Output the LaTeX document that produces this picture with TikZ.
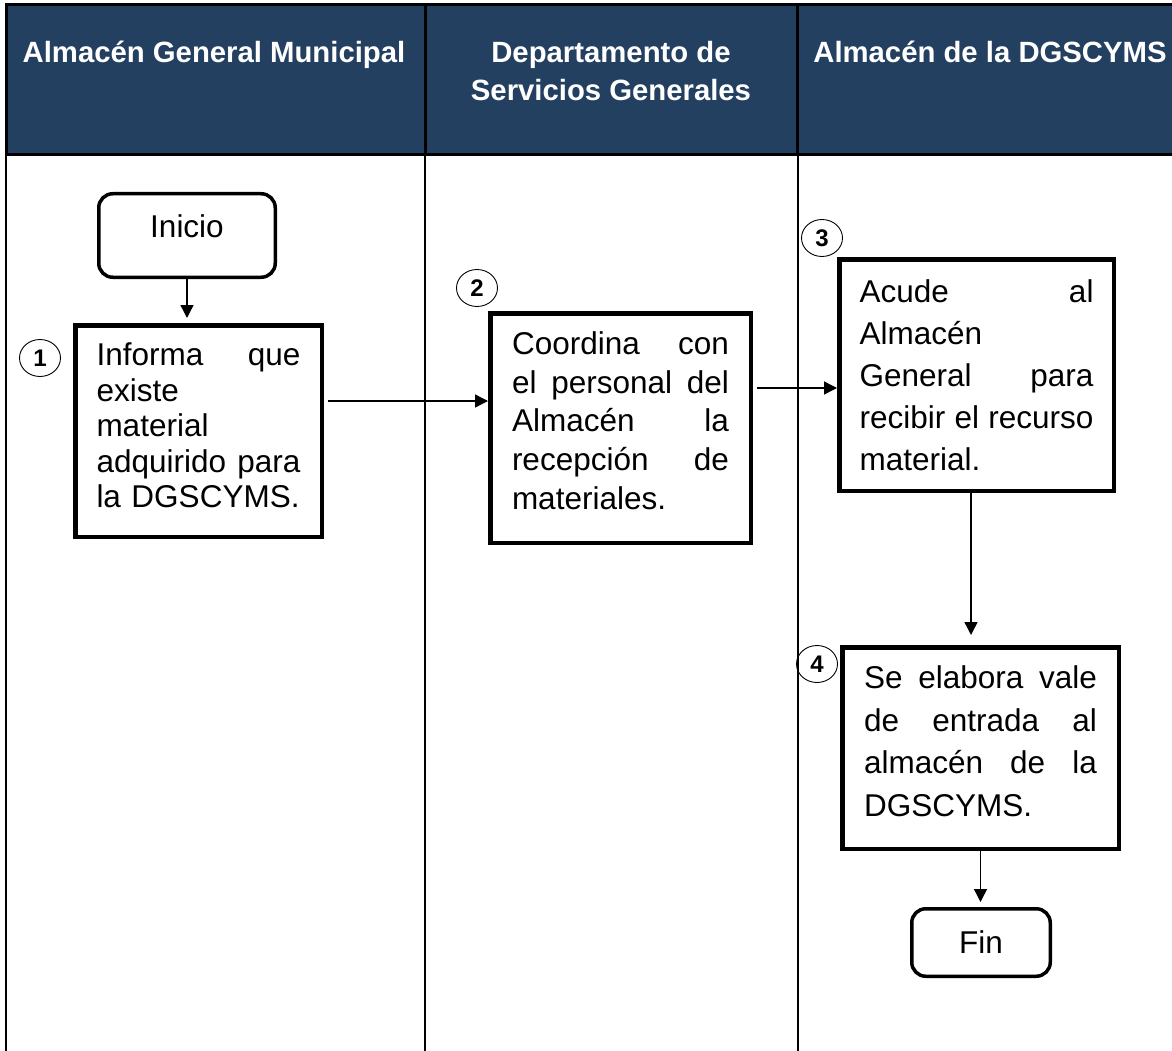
\documentclass[tikz,border=0pt]{standalone}
\usepackage{fontspec}
\setmainfont{Liberation Sans}
\usetikzlibrary{arrows.meta,shapes.geometric}
\definecolor{chead}{RGB}{36,64,97}

\begin{document}
\begin{tikzpicture}[x=1pt,y=-1pt,
   head/.style={text=white,font=\fontsize{29.3}{38}\selectfont\bfseries,align=center,
     anchor=base,inner sep=0pt},
   proc/.style={draw,line width=4.5pt,inner sep=0pt,align=left,
     font=\fontsize{31.5}{#1}\selectfont},
   term/.style={draw,line width=3.5pt,rounded corners=14pt,inner sep=0pt,
     font=\fontsize{31.5}{36}\selectfont},
   num/.style={ellipse,draw,line width=0.9pt,minimum width=41pt,minimum height=37pt,
     inner sep=0pt,font=\fontsize{24}{26}\selectfont\bfseries},
   flow/.style={line width=1.4pt,-{Triangle[length=13pt,width=13pt]}},
   lane/.style={line width=1.6pt}]
  \path[use as bounding box,fill=white] (0,0) rectangle (1172,1051);
  \fill[chead] (6,5) rectangle (1172,155);
  \draw[line width=3pt] (1172,5) -- (6,5) -- (6,155) -- (1172,155)
     (425,5) -- (425,155) (797,5) -- (797,155);
  \draw[lane] (6,155) -- (6,1051) (425,155) -- (425,1051) (798,155) -- (798,1051);
  \node[head] (h1) at (214,63) {Almacén General Municipal};
  \node[head] (h2) at (611,101) {Departamento de\\Servicios Generales};
  \node[head] (h3) at (990,63) {Almacén de la DGSCYMS};
  \node[term,minimum width=176.5pt,minimum height=83.5pt,text depth=18pt] (ini) at (187,235.5) {Inicio};
  \node[proc=35.4,minimum width=246.5pt,minimum height=211.5pt,text width=204pt,text depth=153pt] (b1) at (198.5,431)
    {Informa\hfill que\\existe\\material\\adquirido\hfill para\\la~DGSCYMS.};
  \node[proc=38.7,minimum width=260.5pt,minimum height=229.5pt,text width=217pt,text depth=170pt] (b2) at (620.5,428)
    {Coordina\hfill con\\el\hfill personal\hfill del\\Almacén\hfill la\\recepción\hfill de\\materiales.};
  \node[proc=42,minimum width=274.5pt,minimum height=231.5pt,text width=234pt] (b3) at (976.5,375)
    {Acude\hfill al\\Almacén\\General\hfill para\\recibir\hfill el\hfill recurso\\material.};
  \node[proc=42.5,minimum width=276.5pt,minimum height=201.5pt,text width=233pt,text depth=141pt] (b4) at (980.5,748)
    {Se\hfill elabora\hfill vale\\de\hfill entrada\hfill al\\almacén\hfill de\hfill la\\DGSCYMS.};
  \node[term,minimum width=138.5pt,minimum height=67.5pt] (fin) at (981,942.5) {Fin};
  \node[num] (n1) at (40,358) {1};
  \node[num] (n2) at (477,288) {2};
  \node[num] (n3) at (822,238) {3};
  \node[num] (n4) at (817,664) {4};
  \draw[flow,shorten >=5pt] (ini.south) -- (ini.south |- b1.north);
  \draw[flow,shorten <=4pt] ([yshift=30pt]b1.east) -- ([yshift=30pt]b1.east -| b2.west);
  \draw[flow,shorten <=4pt] ([yshift=40pt]b2.east) -- ([yshift=40pt]b2.east -| b3.west);
  \draw[flow,shorten >=10pt] ([xshift=-5.5pt]b3.south) -- ([xshift=-5.5pt]b3.south |- b4.north);
  \draw[flow,shorten >=5pt] (b4.south) -- (b4.south |- fin.north);
\end{tikzpicture}
\end{document}
